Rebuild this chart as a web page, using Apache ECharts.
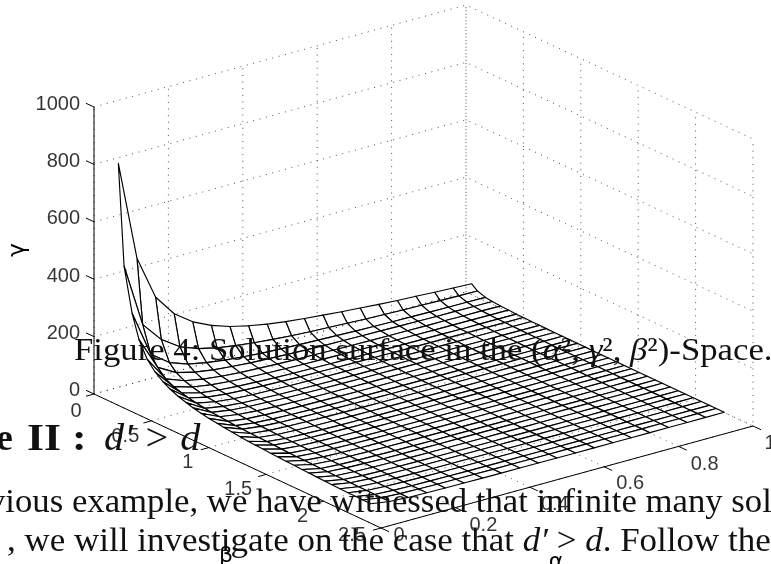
<!DOCTYPE html>
<html><head><meta charset="utf-8">
<style>html,body{margin:0;padding:0;background:#fff;overflow:hidden}#c{width:771px;height:564px}</style>
<script src="https://cdn.jsdelivr.net/npm/echarts@6/dist/echarts.min.js"></script>
</head><body><div id="c"></div>
<script>
const alphaValues=[.05,.1,.15,.2,.25,.3,.35,.4,.45,.5,.55,.6,.65,.7,.75,.8,.85,.9,.95,1];
const betaValues=[.05,.1,.17,.23,.3,.37,.44,.5,.57,.64,.7,.77,.84,.91,.97,1.04,1.11,1.18,1.24,1.31,1.38,1.44,1.51,1.58,1.65,1.71,1.78,1.85,1.91,1.98,2.05,2.12,2.18,2.25];
const gammaValues=[
[795,447,294,218,172,142,120,105,93,84,77,71,65,60,55,51,48,44,41,38],
[446,225,155,112,88,73,63,55,49,44,40,37,34,31,29,27,26,24,23,22],
[295,135,88,65,52,43,37,32,29,26,24,22,20,18,17,16,15,14,14,13],
[215,100,64,48,38,32,27,24,21,19,17,16,15,14,13,12,11,11,10,10],
[160,73,49,37,29,24,21,18,16,15,13,12,11,10,10,9,9,8,8,7],
[128,59,40,30,24,20,17,15,13,12,11,10,9,8.5,8,7.4,7,6.6,6.3,6],
[107,50,33,25,20,17,14,12.5,11,10,9,8.3,7.7,7,6.7,6.3,5.9,5.6,5.3,5],
[93,44,29,22,18,15,13,11,10,9,8,7.3,6.8,6.3,5.9,5.5,5.2,4.9,4.6,4.4],
[81,39,26,19,15,13,11,9.7,8.6,7.7,7,6.4,5.9,5.5,5.1,4.8,4.5,4.3,4.1,3.9],
[72,34,23,17,14,11,9.8,8.6,7.6,6.9,6.3,5.7,5.3,4.9,4.6,4.3,4,3.8,3.6,3.4],
[65,31,21,16,13,10,9,7.9,7,6.3,5.7,5.2,4.8,4.5,4.2,3.9,3.7,3.5,3.3,3.1],
[59,29,19,14,11,9.5,8.2,7.1,6.4,5.7,5.2,4.8,4.4,4.1,3.8,3.6,3.4,3.2,3,2.9],
[54,26,17,13,10,8.7,7.5,6.5,5.8,5.2,4.8,4.4,4,3.7,3.5,3.3,3.1,2.9,2.8,2.6],
[50,24,16,12,9.7,8.1,6.9,6,5.4,4.8,4.4,4,3.7,3.5,3.2,3,2.8,2.7,2.5,2.4],
[47,23,15,11,9.1,7.6,6.5,5.7,5,4.5,4.1,3.8,3.5,3.2,3,2.8,2.7,2.5,2.4,2.3],
[44,21,14,11,8.5,7.1,6,5.3,4.7,4.2,3.8,3.5,3.3,3,2.8,2.6,2.5,2.4,2.2,2.1],
[41,20,13,10,7.9,6.6,5.7,5,4.4,4,3.6,3.3,3,2.8,2.6,2.5,2.3,2.2,2.1,2],
[38,19,12,9.3,7.5,6.2,5.3,4.7,4.1,3.7,3.4,3.1,2.9,2.7,2.5,2.3,2.2,2.1,2,1.9],
[36,18,12,8.9,7.1,5.9,5.1,4.4,3.9,3.5,3.2,3,2.7,2.5,2.4,2.2,2.1,2,1.9,1.8],
[35,17,11,8.4,6.7,5.6,4.8,4.2,3.7,3.4,3.1,2.8,2.6,2.4,2.2,2.1,2,1.9,1.8,1.7],
[33,16,11,8,6.4,5.3,4.5,4,3.5,3.2,2.9,2.7,2.4,2.3,2.1,2,1.9,1.8,1.7,1.6],
[32,15,10,7.6,6.1,5.1,4.4,3.8,3.4,3.1,2.8,2.5,2.4,2.2,2,1.9,1.8,1.7,1.6,1.5],
[30,15,9.7,7.3,5.8,4.9,4.2,3.6,3.2,2.9,2.7,2.4,2.2,2.1,1.9,1.8,1.7,1.6,1.5,1.5],
[29,14,9.3,7,5.6,4.6,4,3.5,3.1,2.8,2.5,2.3,2.1,2,1.9,1.7,1.6,1.5,1.5,1.4],
[27,13,8.9,6.7,5.3,4.4,3.8,3.3,3,2.7,2.4,2.2,2,1.9,1.8,1.7,1.6,1.5,1.4,1.3],
[26,13,8.6,6.4,5.1,4.3,3.7,3.2,2.9,2.6,2.3,2.1,2,1.8,1.7,1.6,1.5,1.4,1.4,1.3],
[25,12,8.2,6.2,4.9,4.1,3.5,3.1,2.7,2.5,2.2,2.1,1.9,1.8,1.6,1.5,1.5,1.4,1.3,1.2],
[24,12,7.9,5.9,4.8,4,3.4,3,2.6,2.4,2.2,2,1.8,1.7,1.6,1.5,1.4,1.3,1.3,1.2],
[23,12,7.7,5.8,4.6,3.8,3.3,2.9,2.6,2.3,2.1,1.9,1.8,1.6,1.5,1.4,1.4,1.3,1.2,1.2],
[22,11,7.4,5.6,4.4,3.7,3.2,2.8,2.5,2.2,2,1.9,1.7,1.6,1.5,1.4,1.3,1.2,1.2,1.1],
[21,11,7.2,5.4,4.3,3.6,3.1,2.7,2.4,2.1,2,1.8,1.7,1.5,1.4,1.3,1.3,1.2,1.1,1.1],
[21,10,6.9,5.2,4.2,3.5,3,2.6,2.3,2.1,1.9,1.7,1.6,1.5,1.4,1.3,1.2,1.2,1.1,1],
[20,10,6.7,5,4,3.4,2.9,2.5,2.2,2,1.8,1.7,1.6,1.4,1.3,1.3,1.2,1.1,1.1,1],
[20,10,6.5,4.9,3.9,3.3,2.8,2.4,2.2,2,1.8,1.6,1.5,1.4,1.3,1.2,1.2,1.1,1,1]
];
const alphaTicks=[0,.2,.4,.6,.8,1];
const betaTicks=[0,.5,1,1.5,2,2.5];
const gammaTicks=[0,200,400,600,800,1000];
const alphaTickLabels=['0','0.2','0.4','0.6','0.8','1'];
const betaTickLabels=['0','0.5','1','1.5','2','2.5'];
const gammaTickLabels=['0','200','400','600','800','1000'];

// oblique projection of the MATLAB-style 3D box
const ORIGIN=[94,394], AX=[372,-102], BX=[287,134], GY=-287;
function project(a,b,g){
  const f=b/2.5,h=g/1000;
  return [ORIGIN[0]+AX[0]*a+BX[0]*f, ORIGIN[1]+AX[1]*a+BX[1]*f+GY*h];
}
function lineSeries(points,style,z){
  return {type:'line',data:points,symbol:'none',silent:true,animation:false,z:z,lineStyle:style,clip:false};
}
const dotted={color:'#222',width:.8,type:[1,5.6]};
const solid={color:'#000',width:1};
const series=[];

// surface faces, far to near
const faces=[];
for(let i=alphaValues.length-2;i>=0;i--){
  for(let j=0;j<betaValues.length-1;j++){
    const q=[[i,j],[i+1,j],[i+1,j+1],[i,j+1]];
    const row=[];
    q.forEach(p=>{row.push(alphaValues[p[0]],betaValues[p[1]],gammaValues[p[1]][p[0]]);});
    faces.push(row);
  }
}
series.push({type:'custom',coordinateSystem:'cartesian2d',silent:true,animation:false,z:1,clip:false,
  encode:{x:0,y:1},data:faces,
  renderItem:function(params,api){
    const pts=[];
    for(let k=0;k<4;k++){
      const p=project(api.value(k*3),api.value(k*3+1),api.value(k*3+2));
      pts.push(api.coord(p));
    }
    return {type:'polygon',shape:{points:pts},style:{fill:'#fff',stroke:'#000',lineWidth:1.15,lineJoin:'round'}};
  }});

// back walls and floor, dotted
const aMax=1,bMax=2.5,gMax=1000;
gammaTicks.forEach(g=>{
  series.push(lineSeries([project(0,0,g),project(aMax,0,g),project(aMax,bMax,g)],dotted,2));
});
alphaTicks.forEach(a=>{
  series.push(lineSeries([project(a,bMax,0),project(a,0,0),project(a,0,gMax)],dotted,2));
});
betaTicks.forEach(b=>{
  series.push(lineSeries([project(0,b,0),project(aMax,b,0),project(aMax,b,gMax)],dotted,2));
});

// axes and tick marks
series.push(lineSeries([project(0,0,gMax),project(0,0,0),project(0,bMax,0),project(aMax,bMax,0)],solid,3));
const tick=(from,da,db)=>[from,project2(from,da,db)];
function project2(p,dx,dy){return [p[0]+dx,p[1]+dy];}
gammaTicks.forEach(g=>series.push(lineSeries(tick(project(0,0,g),-8,-3.7),solid,3)));
betaTicks.forEach(b=>series.push(lineSeries(tick(project(0,b,0),-8,2.2),solid,3)));
alphaTicks.forEach(a=>series.push(lineSeries(tick(project(a,bMax,0),8,3.7),solid,3)));

// tick labels as offset pins
const labelFont={fontFamily:'Liberation Sans',fontSize:20,color:'#000'};
function labelSeries(anchors,texts,align){
  return {type:'scatter',symbolSize:0,silent:true,animation:false,z:4,
    data:anchors.map((p,i)=>({value:p,label:{show:true,formatter:texts[i],position:'inside',align:align,verticalAlign:'middle',...labelFont}}))};
}
const gammaLabelOffsets=[[-14,-4],[-14,-3],[-14,-3],[-14,-3],[-14,-3],[-14,-3]];
series.push(labelSeries(gammaTicks.map((g,i)=>project2(project(0,0,g),gammaLabelOffsets[i][0],gammaLabelOffsets[i][1])),gammaTickLabels,'right'));
const betaLabelOffsets=[[-18,17],[-26,16],[-21,15],[-28,15],[-21,15],[-29,7]];
series.push(labelSeries(betaTicks.map((b,i)=>project2(project(0,b,0),betaLabelOffsets[i][0],betaLabelOffsets[i][1])),betaTickLabels,'center'));
const alphaLabelOffsets=[[18,7],[28,18],[25,17],[26,17],[26,18],[17,17]];
series.push(labelSeries(alphaTicks.map((a,i)=>project2(project(a,bMax,0),alphaLabelOffsets[i][0],alphaLabelOffsets[i][1])),alphaTickLabels,'center'));

const serif='Liberation Serif';
const rich={i:{fontFamily:serif,fontSize:32,fontStyle:'italic',color:'#111'}};
const bodyRich={i:{fontFamily:serif,fontSize:33,fontStyle:'italic',color:'#111'}};
const chart=echarts.init(document.getElementById('c'),null,{renderer:'canvas'});
chart.setOption({
  animation:false,backgroundColor:'#fff',
  grid:{left:0,right:0,top:0,bottom:0},
  xAxis:{type:'value',min:0,max:771,show:false},
  yAxis:{type:'value',min:0,max:564,inverse:true,show:false},
  series:series,
  graphic:[
    {type:'text',z:10,silent:true,rotation:Math.PI/2,x:18,y:250,style:{text:'γ',font:'23px "DejaVu Sans"',fill:'#000',align:'center',verticalAlign:'middle'}},
    {type:'text',z:10,silent:true,x:226,y:556,style:{text:'β',font:'22px "DejaVu Sans"',fill:'#000',align:'center',verticalAlign:'middle'}},
    {type:'text',z:10,silent:true,x:556,y:562,style:{text:'α',font:'22px "DejaVu Sans"',fill:'#000',align:'center',verticalAlign:'middle'}},
    {type:'text',z:10,silent:true,x:74,y:352,scaleX:1.085,style:{text:'Figure 4: Solution surface in the ({i|α}², {i|γ}², {i|β}²)-Space.',font:'32px "Liberation Serif"',fill:'#111',verticalAlign:'middle',rich:rich}},
    {type:'text',z:10,silent:true,x:-4,y:440,style:{text:'e',font:'bold 38px "Liberation Serif"',fill:'#111',verticalAlign:'middle'}},
    {type:'text',z:10,silent:true,x:27,y:440,scaleX:1.15,style:{text:'II :',font:'bold 38px "Liberation Serif"',fill:'#111',verticalAlign:'middle'}},
    {type:'text',z:10,silent:true,x:104,y:440,scaleX:1.06,style:{text:'d′ > d',font:'italic 38px "Liberation Serif"',fill:'#111',verticalAlign:'middle'}},
    {type:'text',z:10,silent:true,x:-12,y:503,scaleX:1.052,style:{text:'vious example, we have witnessed that infinite many sol',font:'33px "Liberation Serif"',fill:'#111',verticalAlign:'middle'}},
    {type:'text',z:10,silent:true,x:7,y:542,scaleX:1.06,style:{text:', we will investigate on the case that {i|d′} > {i|d}. Follow the',font:'33px "Liberation Serif"',fill:'#111',verticalAlign:'middle',rich:bodyRich}}
  ]
});
</script></body></html>
